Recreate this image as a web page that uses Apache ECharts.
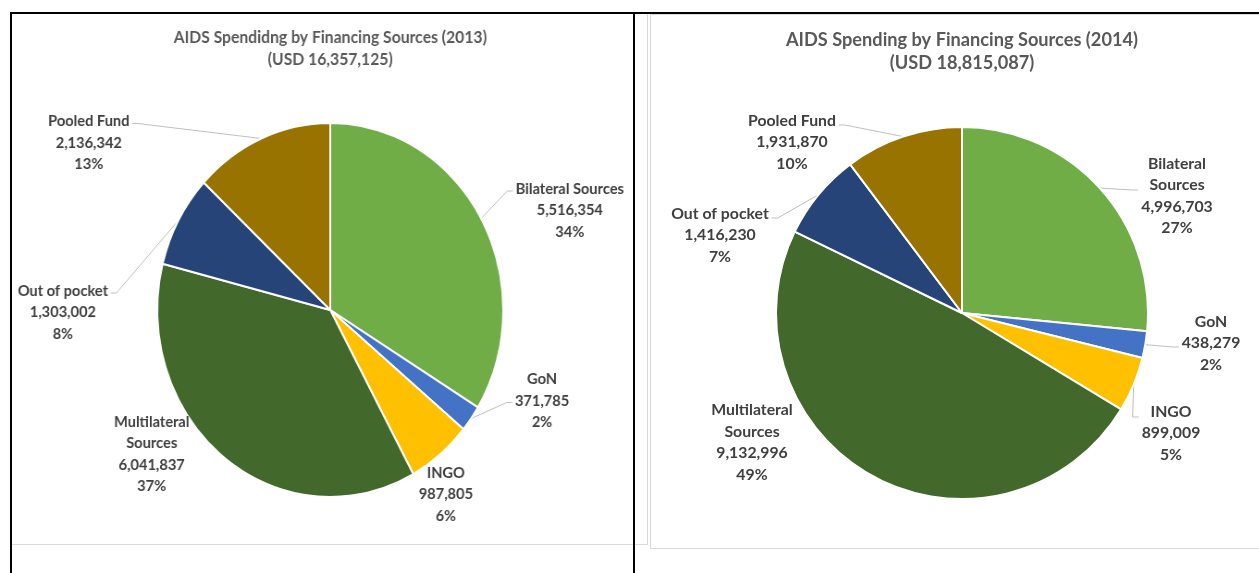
<!DOCTYPE html>
<html>
<head>
<meta charset="utf-8">
<script src="https://cdn.jsdelivr.net/npm/echarts@6/dist/echarts.min.js"></script>
<style>
  html, body { margin: 0; padding: 0; background: #fff; width: 1259px; height: 573px; overflow: hidden; }
  body { position: relative; }
  .chart { position: absolute; top: 0; height: 573px; }
  #pie2013 { left: 0; width: 690px; transform: scaleX(0.925); transform-origin: 0 0; }
  #pie2014 { left: 640px; width: 619px; }
  .rule { position: absolute; box-sizing: border-box; }
</style>
</head>
<body>
<!-- panel frames -->
<div class="rule" style="left:650px;top:14px;width:640px;height:535px;border:1px solid #d9d9d9;"></div>
<div class="rule" style="left:11px;top:14px;width:637px;height:531px;border-right:1px solid #d9d9d9;border-bottom:1px solid #d9d9d9;"></div>
<div id="pie2013" class="chart"></div>
<div id="pie2014" class="chart"></div>
<!-- black page rules -->
<div class="rule" style="left:10px;top:12px;width:1249px;height:2px;background:#000;"></div>
<div class="rule" style="left:10px;top:12px;width:2px;height:561px;background:#000;"></div>
<div class="rule" style="left:633px;top:12px;width:2px;height:561px;background:#000;"></div>

<script>
// Financing sources, in drawing order (clockwise from 12 o'clock)
const categories = ['Bilateral Sources', 'GoN', 'INGO', 'Multilateral Sources', 'Out of pocket', 'Pooled Fund'];
const spending2013 = [5516354, 371785, 987805, 6041837, 1303002, 2136342];
const spending2014 = [4996703, 438279, 899009, 9132996, 1416230, 1931870];
const title2013 = 'AIDS Spendidng by Financing Sources (2013)';
const title2014 = 'AIDS Spending by Financing Sources (2014)';

const sliceColors = ['#70AD47', '#4472C4', '#FFC000', '#43682B', '#264478', '#997300'];
const FONT = 'Lato, "Liberation Sans", sans-serif';

function fmt(n) {
  return String(n).replace(/\B(?=(\d{3})+(?!\d))/g, ',');
}

// label placement relative to the pie centre: dx/dy = block centre,
// ly = where the leader line meets the label (offset from block centre)
const layout2013 = [
  { dx: 259, dy: -100, ly: -19, line: true },
  { dx: 229, dy: 90.5, ly: 2, line: true },
  { dx: 125, dy: 184, line: false },
  { dx: -193, dy: 144, line: false },
  { dx: -289, dy: 2, ly: -19, line: true },
  { dx: -261, dy: -167.5, ly: -19, line: true }
];
const layout2014 = [
  { dx: 215, dy: -117, ly: -6, line: true },
  { dx: 249, dy: 30, ly: 4, line: true },
  { dx: 209, dy: 120, ly: -16, line: true },
  { dx: -210, dy: 129.5, line: false },
  { dx: -242, dy: -78, ly: -17, line: true },
  { dx: -170, dy: -171, ly: -17, line: true }
];

function buildOption(cfg) {
  const total = cfg.values.reduce((a, b) => a + b, 0);
  const cx = cfg.center[0], cy = cfg.center[1];
  return {
    animation: false,
    title: {
      text: cfg.title + '\n(USD ' + fmt(total) + ')',
      left: cx,
      top: cfg.titleTop,
      padding: 0,
      textAlign: 'center',
      textStyle: {
        fontFamily: FONT,
        fontSize: cfg.titleSize,
        fontWeight: 'bold',
        color: '#595959',
        lineHeight: cfg.titleLineHeight
      }
    },
    series: [{
      type: 'pie',
      center: [cx, cy],
      radius: cfg.radius,
      startAngle: 90,
      clockwise: true,
      percentPrecision: 0,
      avoidLabelOverlap: false,
      emphasis: { disabled: true },
      itemStyle: { borderColor: '#ffffff', borderWidth: 2 },
      label: {
        show: true,
        position: 'outside',
        fontFamily: FONT,
        fontSize: 15.8,
        fontWeight: 'bold',
        color: '#404040',
        lineHeight: 21.5,
        align: 'center',
        formatter: function (p) {
          const name = cfg.wrapped.indexOf(p.name) >= 0 ? p.name.replace(' ', '\n') : p.name;
          return name + '\n' + fmt(p.value) + '\n' + p.percent + '%';
        }
      },
      labelLine: {
        show: true,
        length: 10,
        length2: 10,
        smooth: false,
        lineStyle: { color: '#bfbfbf', width: 1 }
      },
      labelLayout: function (params) {
        const L = cfg.layout[params.dataIndex];
        const x = cx + L.dx;
        const y = cy + L.dy;
        const res = { x: x, y: y, align: 'center', verticalAlign: 'middle' };
        if (L.line && params.labelLinePoints) {
          const p0 = params.labelLinePoints[0];
          const side = L.dx > 0 ? -1 : 1;
          const ex = x + side * (params.labelRect.width / 2 + 3);
          const ey = y + L.ly;
          res.labelLinePoints = [[p0[0], p0[1]], [ex + side * 6, ey], [ex, ey]];
        }
        return res;
      },
      data: categories.map(function (name, i) {
        return {
          name: name,
          value: cfg.values[i],
          itemStyle: { color: sliceColors[i] },
          labelLine: { show: cfg.layout[i].line }
        };
      })
    }]
  };
}

const chart2013 = echarts.init(document.getElementById('pie2013'), null, { renderer: 'canvas' });
chart2013.setOption(buildOption({
  title: title2013,
  values: spending2013,
  center: [357, 310],
  radius: 187,
  titleTop: 26.5,
  titleSize: 17,
  titleLineHeight: 22,
  wrapped: ['Multilateral Sources'],
  layout: layout2013
}));

const chart2014 = echarts.init(document.getElementById('pie2014'), null, { renderer: 'canvas' });
chart2014.setOption(buildOption({
  title: title2014,
  values: spending2014,
  center: [322, 313],
  radius: 186,
  titleTop: 28.5,
  titleSize: 18.2,
  titleLineHeight: 23,
  wrapped: ['Bilateral Sources', 'Multilateral Sources'],
  layout: layout2014
}));
</script>
</body>
</html>
